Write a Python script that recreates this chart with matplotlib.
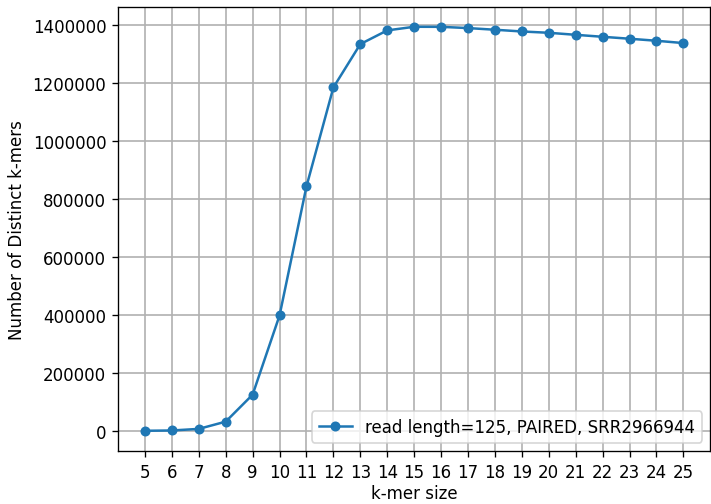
import matplotlib
matplotlib.use('Agg')
import matplotlib.pyplot as plt

# k-mer sizes and distinct k-mer counts
kmer_sizes = list(range(5, 26))
distinct_kmers = [500, 1500, 7000, 32000, 125000, 398000, 843000, 1184000,
                  1333500, 1380700, 1393200, 1393000, 1388700, 1383000,
                  1377000, 1372500, 1365500, 1358700, 1352000, 1345000,
                  1337000]
label = 'read length=125, PAIRED, SRR2966944'

fig = plt.figure(figsize=(711 / 120, 505 / 120), dpi=120)
ax = fig.add_subplot(111)
ax.plot(kmer_sizes, distinct_kmers, marker='o', markersize=5, color='#1f77b4', label=label)
ax.set_xticks(kmer_sizes)
ax.grid(True, color='#b0b0b0', linewidth=1.0)
ax.set_xlabel('k-mer size', labelpad=2)
ax.set_ylabel('Number of Distinct k-mers')
ax.ticklabel_format(axis='y', style='plain')
ax.legend(loc='lower right')
fig.subplots_adjust(left=0.166, right=0.999, bottom=0.105, top=0.985)
fig.savefig('out.png')
